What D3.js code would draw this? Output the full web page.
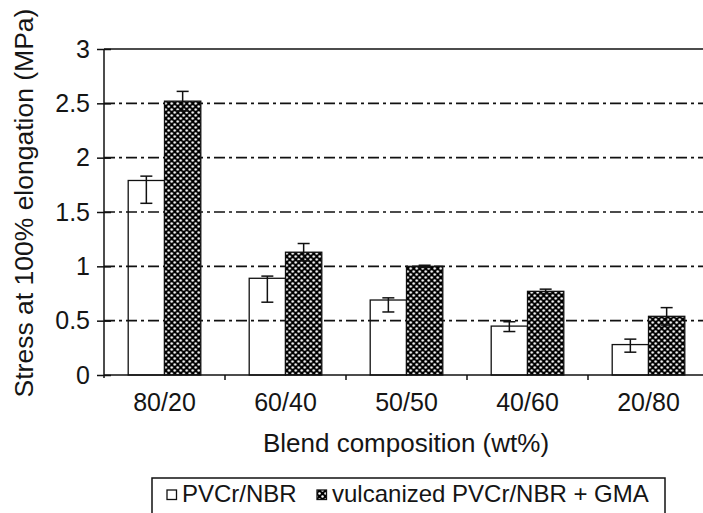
<!DOCTYPE html>
<html>
<head>
<meta charset="utf-8">
<script src="https://cdn.jsdelivr.net/npm/d3@7/dist/d3.min.js"></script>
<style>
  html, body { margin: 0; padding: 0; background: #fff; overflow: hidden; }
  text { font-family: Arial, "Liberation Sans", sans-serif; fill: #151515; }
</style>
</head>
<body>
<div id="chart"></div>
<script>
// blend ratios on the x axis
const categories = ['80/20', '60/40', '50/50', '40/60', '20/80'];
const seriesNames = ['PVCr/NBR', 'vulcanized PVCr/NBR + GMA'];

// stress at 100% elongation (MPa)
const plainValues = [1.79, 0.89, 0.69, 0.45, 0.28];
const plainErrHigh = [1.83, 0.91, 0.71, 0.49, 0.33];
const plainErrLow = [1.58, 0.67, 0.58, 0.40, 0.21];

const gmaValues = [2.52, 1.13, 1.00, 0.77, 0.54];
const gmaErrHigh = [2.61, 1.21, 1.01, 0.79, 0.62];
const gmaErrLow = [2.43, 1.05, 0.99, 0.75, 0.46];

const yTicks = [0, 0.5, 1, 1.5, 2, 2.5, 3];

const width = 703, height = 513;
const plotLeft = 104, plotRight = 709, plotTop = 49, plotBottom = 375;

const svg = d3.select('#chart').append('svg')
  .attr('width', width)
  .attr('height', height);

// dotted dark fill used by the GMA bars
const defs = svg.append('defs');
const pat = defs.append('pattern')
  .attr('id', 'dots')
  .attr('patternUnits', 'userSpaceOnUse')
  .attr('width', 6)
  .attr('height', 6);
pat.append('rect').attr('width', 6).attr('height', 6).attr('fill', '#000');
pat.append('circle').attr('cx', 1.5).attr('cy', 1.5).attr('r', 1.25).attr('fill', '#fff');
pat.append('circle').attr('cx', 4.5).attr('cy', 4.5).attr('r', 1.25).attr('fill', '#fff');

const x0 = d3.scaleBand()
  .domain(categories)
  .range([plotLeft, plotRight])
  .paddingInner(0.4)
  .paddingOuter(0.2);

const x1 = d3.scaleBand()
  .domain(seriesNames)
  .range([0, x0.bandwidth()]);

const y = d3.scaleLinear()
  .domain([0, 3])
  .range([plotBottom, plotTop]);

// gridlines (dash-dot), top one solid
svg.append('g').attr('class', 'grid')
  .selectAll('line')
  .data(yTicks.filter(d => d > 0))
  .enter()
  .append('line')
  .attr('x1', plotLeft)
  .attr('x2', plotRight)
  .attr('y1', d => y(d))
  .attr('y2', d => y(d))
  .attr('stroke', '#111')
  .attr('stroke-width', 1.6)
  .attr('stroke-dasharray', d => d === 3 ? null : '11,4,3,4');

const rows = categories.map((c, i) => ({
  cat: c,
  bars: [
    { s: seriesNames[0], v: plainValues[i], hi: plainErrHigh[i], lo: plainErrLow[i] },
    { s: seriesNames[1], v: gmaValues[i], hi: gmaErrHigh[i], lo: gmaErrLow[i] }
  ]
}));

const groups = svg.append('g').attr('class', 'bars')
  .selectAll('g')
  .data(rows)
  .enter()
  .append('g')
  .attr('transform', d => `translate(${x0(d.cat)},0)`);

groups.selectAll('rect')
  .data(d => d.bars)
  .enter()
  .append('rect')
  .attr('x', d => x1(d.s))
  .attr('y', d => y(d.v))
  .attr('width', x1.bandwidth())
  .attr('height', d => y(0) - y(d.v))
  .attr('fill', (d, i) => i === 0 ? 'none' : 'url(#dots)')
  .attr('stroke', '#111')
  .attr('stroke-width', 1.3);

// error bars
const cap = 6;
const err = groups.selectAll('g.err')
  .data(d => d.bars)
  .enter()
  .append('g')
  .attr('class', 'err')
  .attr('stroke', '#111')
  .attr('stroke-width', 1.5);
err.append('line')
  .attr('x1', d => x1(d.s) + x1.bandwidth() / 2)
  .attr('x2', d => x1(d.s) + x1.bandwidth() / 2)
  .attr('y1', d => y(d.hi))
  .attr('y2', d => y(d.lo));
err.append('line')
  .attr('x1', d => x1(d.s) + x1.bandwidth() / 2 - cap)
  .attr('x2', d => x1(d.s) + x1.bandwidth() / 2 + cap)
  .attr('y1', d => y(d.hi))
  .attr('y2', d => y(d.hi));
err.append('line')
  .attr('x1', d => x1(d.s) + x1.bandwidth() / 2 - cap)
  .attr('x2', d => x1(d.s) + x1.bandwidth() / 2 + cap)
  .attr('y1', d => y(d.lo))
  .attr('y2', d => y(d.lo));

// y axis
const yAxis = svg.append('g')
  .attr('transform', `translate(${plotLeft},0)`)
  .call(d3.axisLeft(y).tickValues(yTicks).tickSize(7).tickPadding(7).tickFormat(d3.format('')));
yAxis.select('.domain').attr('stroke', '#111').attr('stroke-width', 1.5)
  .attr('d', `M0,${plotTop}V${plotBottom + 3}`);
yAxis.selectAll('.tick line').attr('stroke', '#111').attr('stroke-width', 1.5)
  .attr('x2', -7).attr('x1', 7);
yAxis.selectAll('.tick text')
  .attr('font-size', 25)
  .attr('x', -14)
  .attr('font-family', 'Arial, "Liberation Sans", sans-serif')
  .attr('fill', '#151515');

// x axis: ticks sit between categories
const xAxis = svg.append('g')
  .attr('transform', `translate(0,${plotBottom})`);
xAxis.append('line')
  .attr('x1', plotLeft).attr('x2', plotRight)
  .attr('stroke', '#111').attr('stroke-width', 1.5);
const step = x0.step();
xAxis.selectAll('line.tk')
  .data(categories.slice(1))
  .enter()
  .append('line')
  .attr('class', 'tk')
  .attr('x1', d => x0(d) - x0.paddingInner() * step / 2)
  .attr('x2', d => x0(d) - x0.paddingInner() * step / 2)
  .attr('y1', 0).attr('y2', 5)
  .attr('stroke', '#111').attr('stroke-width', 1.5);
xAxis.selectAll('text')
  .data(categories)
  .enter()
  .append('text')
  .attr('x', d => x0(d) + x0.bandwidth() / 2)
  .attr('y', 36)
  .attr('text-anchor', 'middle')
  .attr('font-size', 25)
  .text(d => d);

// axis titles
svg.append('text')
  .attr('x', 406)
  .attr('y', 452)
  .attr('text-anchor', 'middle')
  .attr('font-size', 26)
  .text('Blend composition (wt%)');

svg.append('text')
  .attr('transform', 'translate(33,203) rotate(-90)')
  .attr('text-anchor', 'middle')
  .attr('font-size', 26.5)
  .text('Stress at 100% elongation (MPa)');

// legend
const legend = svg.append('g').attr('class', 'legend');
legend.append('rect')
  .attr('x', 152).attr('y', 478)
  .attr('width', 513).attr('height', 45)
  .attr('fill', '#fff').attr('stroke', '#111').attr('stroke-width', 1.5);
const legendX = [167, 317];
seriesNames.forEach((name, i) => {
  legend.append('rect')
    .attr('x', legendX[i]).attr('y', 490)
    .attr('width', 9.5).attr('height', 9.5)
    .attr('fill', i === 0 ? '#fff' : 'url(#dots)')
    .attr('stroke', '#111').attr('stroke-width', 1.3);
  legend.append('text')
    .attr('x', legendX[i] + 15).attr('y', 502)
    .attr('font-size', 24)
    .text(name);
});
</script>
</body>
</html>
